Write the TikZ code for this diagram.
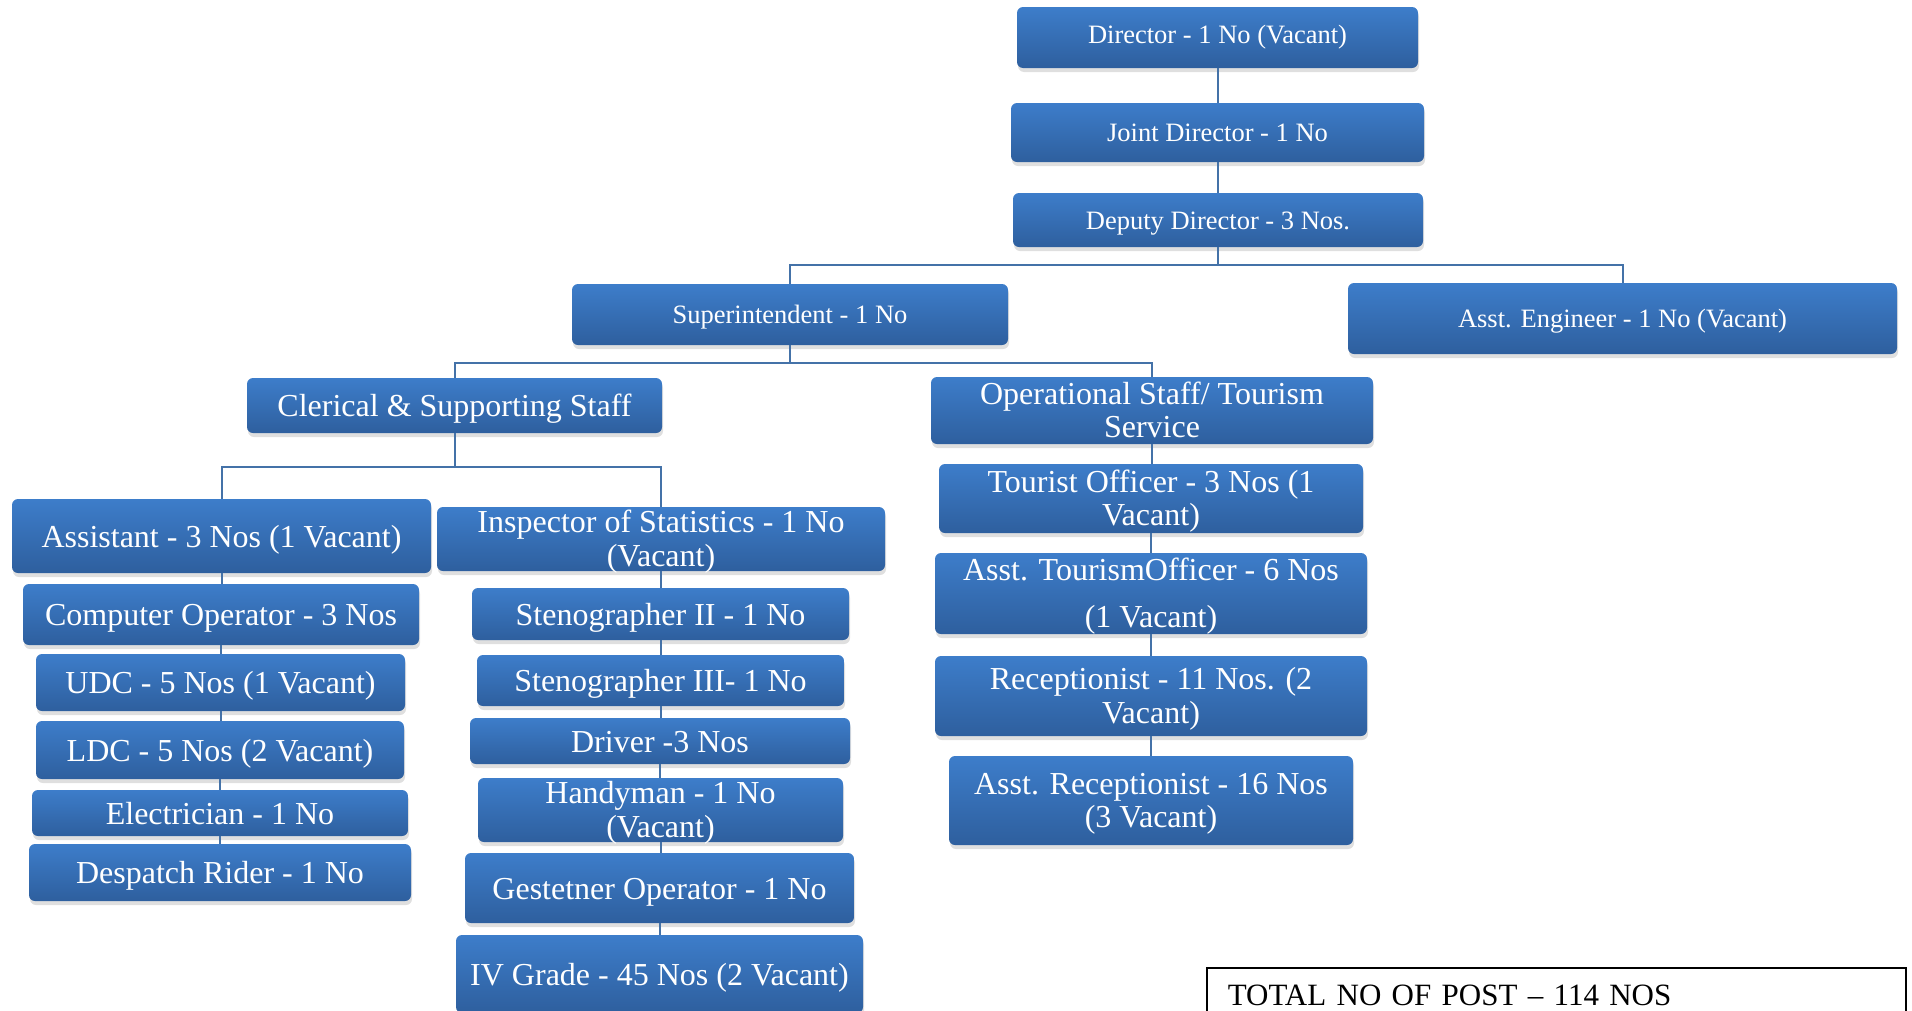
\documentclass[tikz,border=0pt]{standalone}
\usepackage{fontspec}
\setmainfont{Liberation Serif}
\usepackage{xcolor}
\usepackage{tikz}
\usetikzlibrary{shadows}
\definecolor{boxblue}{HTML}{3D7DCA}
\definecolor{darkblue}{HTML}{2E5F9E}
\definecolor{linkblue}{HTML}{4472A8}

\newcommand{\toppad}{\rule{0pt}{0.9em}}

\tikzset{
    post/.style={top color=boxblue, bottom color=darkblue, rounded corners=6pt,
                 text=white, align=center, inner sep=0pt,
                 execute at begin node={\rule[-0.25em]{0pt}{1.2em}},
                 drop shadow={shadow xshift=1pt, shadow yshift=-4pt, opacity=0.25}},
    postsmall/.style={post, font=\fontsize{26.5}{30}\selectfont},
    postlarge/.style={post, font=\fontsize{32}{33.5}\selectfont},
    tight/.style={inner ysep=-5pt},
    link/.style={draw=linkblue, line width=2pt}
}

\begin{document}
\begin{tikzpicture}[x=1pt, y=-1pt]
    \useasboundingbox (0,0) rectangle (1912,1010);
    \clip (0,0) rectangle (1912,1010);

    \node[postsmall, minimum width=401pt, minimum height=61pt, execute at begin node={\rule[-0.5em]{0pt}{0pt}}] (director) at (1217.5,37.5) {Director - 1 No (Vacant)};
    \node[postsmall, minimum width=413pt, minimum height=59pt] (joint) at (1217.5,132.5) {Joint Director - 1 No};
    \node[postsmall, minimum width=410pt, minimum height=54pt] (deputy) at (1218,220) {Deputy Director - 3 Nos.};
    \node[postsmall, minimum width=436pt, minimum height=61pt] (supt) at (790,314.5) {Superintendent - 1 No};
    \node[postsmall, minimum width=549pt, minimum height=71pt] (asstengg) at (1622.5,318.5) {Asst. Engineer - 1 No (Vacant)};

    \node[postlarge, minimum width=415pt, minimum height=55pt] (clerical) at (454.5,405.5) {Clerical \& Supporting Staff};
    \node[postlarge, tight, minimum width=442pt, minimum height=67pt] (operational) at (1152,410.5) {\toppad Operational Staff/ Tourism\\Service};

    \node[postlarge, minimum width=419pt, minimum height=74pt] (assistant) at (221.5,536) {Assistant - 3 Nos (1 Vacant)};
    \node[postlarge, minimum width=396pt, minimum height=61pt] (compop) at (221,614.5) {Computer Operator - 3 Nos};
    \node[postlarge, minimum width=369pt, minimum height=57pt] (udc) at (220.5,682.5) {UDC - 5 Nos (1 Vacant)};
    \node[postlarge, minimum width=368pt, minimum height=58pt] (ldc) at (220,750) {LDC - 5 Nos (2 Vacant)};
    \node[postlarge, minimum width=376pt, minimum height=46pt] (electrician) at (220,813) {Electrician - 1 No};
    \node[postlarge, minimum width=382pt, minimum height=57pt] (despatch) at (220,872.5) {Despatch Rider - 1 No};

    \node[postlarge, tight, minimum width=448pt, minimum height=64pt] (inspector) at (661,539) {\toppad Inspector of Statistics - 1 No\\(Vacant)};
    \node[postlarge, minimum width=377pt, minimum height=52pt] (stenotwo) at (660.5,614) {Stenographer II - 1 No};
    \node[postlarge, minimum width=367pt, minimum height=51pt] (stenothree) at (660.5,680.5) {Stenographer III- 1 No};
    \node[postlarge, minimum width=380pt, minimum height=46pt] (driver) at (660,741) {Driver -3 Nos};
    \node[postlarge, tight, minimum width=365pt, minimum height=64pt] (handyman) at (660.5,810) {\toppad Handyman - 1 No\\(Vacant)};
    \node[postlarge, minimum width=389pt, minimum height=70pt] (gestetner) at (659.5,888) {Gestetner Operator - 1 No};
    \node[postlarge, minimum width=407pt, minimum height=78pt] (ivgrade) at (659.5,974) {IV Grade - 45 Nos (2 Vacant)};

    \node[postlarge, tight, minimum width=424pt, minimum height=69pt] (tourist) at (1151,498.5) {\toppad Tourist Officer - 3 Nos (1\\Vacant)};
    \node[postlarge, tight, minimum width=432pt, minimum height=81pt] (asttourism) at (1151,593.5) {\toppad Asst. TourismOfficer - 6 Nos\\[13pt](1 Vacant)};
    \node[postlarge, tight, minimum width=432pt, minimum height=80pt] (receptionist) at (1151,696) {\toppad Receptionist - 11 Nos. (2\\Vacant)};
    \node[postlarge, tight, minimum width=404pt, minimum height=89pt] (astrecept) at (1151,800.5) {\toppad Asst. Receptionist - 16 Nos\\(3 Vacant)};

    \draw[link] (director.south) -- (director.south |- joint.north);
    \draw[link] (joint.south) -- (joint.south |- deputy.north);
    \draw[link] (deputy.south) -- ++(0,18) coordinate (deputyjoin);
    \draw[link] (supt.north) |- (deputyjoin) -| (asstengg.north);
    \draw[link] (supt.south) -- ++(0,18) coordinate (suptjoin);
    \draw[link] (clerical.north) |- (suptjoin) -| (operational.north);
    \draw[link] (clerical.south) -- ++(0,34) coordinate (clericaljoin);
    \draw[link] (assistant.north) |- (clericaljoin) -| (inspector.north);

    \foreach \upper/\lower in {assistant/compop, compop/udc, udc/ldc, ldc/electrician, electrician/despatch,
                               inspector/stenotwo, stenotwo/stenothree, stenothree/driver, driver/handyman,
                               handyman/gestetner, gestetner/ivgrade,
                               operational/tourist, tourist/asttourism, asttourism/receptionist, receptionist/astrecept}
        \draw[link] (\upper.south) -- (\upper.south |- \lower.north);

    \node[draw=black, line width=1.5pt, fill=white, anchor=north west, minimum width=699pt, minimum height=56pt,
          inner xsep=21pt, text width=657pt, align=left, font=\fontsize{31}{34}\selectfont] (total) at (1206,967)
          {TOTAL NO OF POST -- 114 NOS};
\end{tikzpicture}
\end{document}
